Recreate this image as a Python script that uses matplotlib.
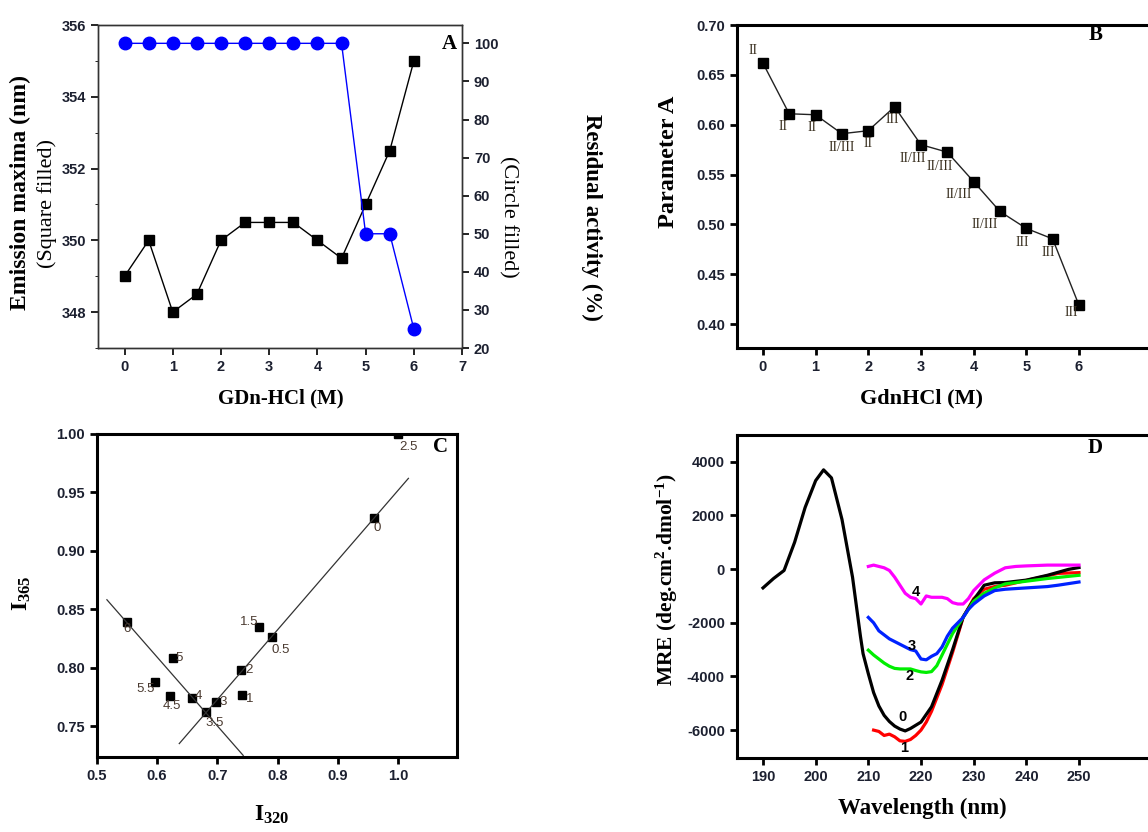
import numpy as np
import matplotlib
matplotlib.use("Agg")
import matplotlib.pyplot as plt
from matplotlib.ticker import FormatStrFormatter

plt.rcParams['font.family'] = ['Liberation Sans', 'DejaVu Sans']
plt.rcParams['font.weight'] = 'bold'
plt.rcParams['xtick.labelsize'] = 10.5
plt.rcParams['ytick.labelsize'] = 10.5
plt.rcParams['xtick.direction'] = 'out'
plt.rcParams['ytick.direction'] = 'out'
plt.rcParams['xtick.labelcolor'] = '#1c2030'
plt.rcParams['ytick.labelcolor'] = '#1c2030'
plt.rcParams['axes.unicode_minus'] = False
plt.rcParams['mathtext.fontset'] = 'custom'
plt.rcParams['mathtext.rm'] = 'Liberation Serif:bold'
plt.rcParams['mathtext.bf'] = 'Liberation Serif:bold'
plt.rcParams['mathtext.default'] = 'bf'

SERIF = ['Liberation Serif', 'DejaVu Serif']

# --- A: emission maxima and residual activity vs GdnHCl
gdn = [0, 0.5, 1, 1.5, 2, 2.5, 3, 3.5, 4, 4.5, 5, 5.5, 6]
emission_max = [349, 350, 348, 348.5, 350, 350.5, 350.5, 350.5, 350, 349.5, 351, 352.5, 355]
residual_act = [100, 100, 100, 100, 100, 100, 100, 100, 100, 100, 50, 50, 25]

# --- B: parameter A with state labels
param_a = [0.662, 0.611, 0.610, 0.591, 0.594, 0.618, 0.580, 0.5725, 0.543, 0.513, 0.496, 0.4855, 0.419]
states = ['II', 'II', 'II', 'II/III', 'II', 'III', 'II/III', 'II/III', 'II/III', 'II/III', 'III', 'III', 'III']

# --- C: phase diagram I320 vs I365
phase_lbl = ['0', '0.5', '1', '1.5', '2', '2.5', '3', '3.5', '4', '4.5', '5', '5.5', '6']
i320 = [0.960, 0.790, 0.741, 0.770, 0.740, 1.000, 0.698, 0.682, 0.658, 0.622, 0.627, 0.596, 0.550]
i365 = [0.928, 0.826, 0.777, 0.835, 0.798, 1.000, 0.771, 0.762, 0.774, 0.776, 0.808, 0.788, 0.839]
fit1_pts = ['0', '0.5', '2', '3', '3.5']
fit1_range = [0.637, 1.017]
fit2_pts = ['3.5', '4', '6']
fit2_range = [0.517, 0.743]

# --- D: far-UV CD spectra
wl0 = [190, 192, 194, 196, 198, 199, 200, 201.5, 203, 205, 207, 208.5, 209, 210, 211, 212, 213, 214,
       215, 216, 217, 218, 220, 222, 224, 226, 228, 230, 232, 234, 236, 240, 244, 248, 250]
mre0 = [-700, -350, -50, 1000, 2300, 2800, 3300, 3700, 3400, 1850, -300, -2500, -3150, -3900,
        -4600, -5100, -5450, -5680, -5850, -5960, -6030, -5940, -5700, -5130, -4140, -3000, -1780,
        -1150, -600, -510, -500, -410, -230, -10, 60]
wl1 = [211, 212, 213, 214, 215, 216, 217, 218, 219, 220, 221, 222, 224, 226, 228, 230, 232, 234,
       236, 240, 244, 246, 250]
mre1 = [-6000, -6050, -6200, -6150, -6250, -6400, -6420, -6350, -6200, -6000, -5700, -5300, -4300,
        -3100, -1800, -1100, -750, -650, -600, -420, -250, -160, -130]
wl2 = [210, 211, 212, 213, 214, 215, 216, 218, 219, 220, 221, 222, 223, 224, 225, 226, 227, 228,
       229, 230, 232, 234, 236, 240, 244, 250]
mre2 = [-3020, -3200, -3350, -3500, -3620, -3700, -3720, -3720, -3780, -3830, -3850, -3820, -3600,
        -3200, -2800, -2400, -2100, -1800, -1500, -1200, -900, -700, -550, -450, -350, -230]
wl3 = [210, 211, 212, 214, 216, 218, 219, 220, 221, 222, 223, 224, 225, 226, 228, 229, 230, 232,
       234, 236, 240, 244, 246, 250]
mre3 = [-1800, -2000, -2300, -2600, -2800, -3000, -3050, -3350, -3380, -3250, -3150, -2900, -2500,
        -2200, -1800, -1500, -1300, -1000, -800, -750, -700, -650, -600, -480]
wl4 = [210, 211, 212, 213, 214, 215, 216, 217, 218, 219, 220, 220.5, 221, 222, 224, 225, 226, 227,
       228, 229, 230, 232, 234, 236, 238, 240, 244, 250]
mre4 = [100, 150, 100, 50, -50, -300, -600, -900, -1050, -1100, -1300, -1150, -1000, -1050, -1050,
        -1100, -1250, -1300, -1300, -1100, -800, -400, -150, 50, 100, 120, 150, 150]

W, H = 1148, 832
fig = plt.figure(figsize=(W / 100, H / 100), dpi=100)


def ftext(px, py, s, **kw):
    # place text in pixel coordinates measured from the top-left corner
    kw.setdefault('ha', 'center')
    kw.setdefault('va', 'center')
    return fig.text(px / W, 1 - py / H, s, **kw)


# ---------------- panel A
axA = fig.add_axes([0.0854, 0.5817, 0.3171, 0.3882])
axA.plot(gdn, emission_max, color='black', lw=1, marker='s', ms=6.5, zorder=3)
axA.set_xlim(-0.55, 7)
axA.set_ylim(347, 356)
axA.set_xticks(range(0, 8))
axA.set_yticks([348, 350, 352, 354, 356])
axA.set_yticks(np.arange(347, 356, 1), minor=True)
axA.tick_params(width=1.2, length=5)
for s in axA.spines.values():
    s.set_linewidth(1.0)
    s.set_color('#333333')
axA.text(0.985, 0.94, 'A', transform=axA.transAxes, ha='right', va='center',
         fontsize=15, fontweight='bold', family=SERIF)

axA2 = axA.twinx()
axA2.plot(gdn, residual_act, color='#0000ff', lw=1, marker='o', ms=9, zorder=3)
axA2.set_ylim(20, 104.8)
axA2.set_yticks(range(20, 101, 10))
axA2.tick_params(width=1.2, length=5)
for s in axA2.spines.values():
    s.set_linewidth(1.0)
    s.set_color('#333333')

ftext(281, 398, 'GDn-HCl (M)', fontsize=15, fontweight='bold', family=SERIF)
ftext(20, 193, 'Emission maxima (nm)', rotation=90, fontsize=17, fontweight='bold', family=SERIF)
ftext(47, 203, '(Square filled)', rotation=90, fontsize=16, fontweight='normal', family=SERIF)
ftext(508, 217, '(Circle filled)', rotation=270, fontsize=16, fontweight='normal', family=SERIF)
ftext(592, 217, 'Residual activity (%)', rotation=270, fontsize=16.5, fontweight='bold', family=SERIF)

# ---------------- panel B
axB = fig.add_axes([0.642, 0.5817, 0.3667, 0.3882])
axB.plot(gdn, param_a, color='#222222', lw=1, marker='s', ms=7.5, mfc='black', mec='black')
axB.set_xlim(-0.49, 7.5)
axB.set_ylim(0.376, 0.70)
axB.set_xticks(range(0, 7))
axB.set_yticks(np.arange(0.40, 0.701, 0.05))
axB.yaxis.set_major_formatter(FormatStrFormatter('%.2f'))
axB.tick_params(width=2, length=5)
for s in axB.spines.values():
    s.set_linewidth(2.2)
offsets = [(-0.18, 0.012), (-0.12, -0.013), (-0.06, -0.013), (0.0, -0.014), (0.0, -0.013),
           (-0.05, -0.013), (-0.15, -0.014), (-0.15, -0.014), (-0.28, -0.013), (-0.28, -0.013),
           (-0.07, -0.014), (-0.08, -0.014), (-0.15, -0.007)]
for x, y, lab, (dx, dy) in zip(gdn, param_a, states, offsets):
    axB.text(x + dx, y + dy, lab, ha='center', va='center', fontsize=10, fontweight='normal',
             family=SERIF, color='#3a3020')
ftext(1096, 35, 'B', fontsize=15, fontweight='bold', family=SERIF)
ftext(669, 162, 'Parameter A', rotation=90, fontsize=17.5, fontweight='bold', family=SERIF)
ftext(922, 398, 'GdnHCl (M)', fontsize=16, fontweight='bold', family=SERIF)

# ---------------- panel C
axC = fig.add_axes([0.0842, 0.0905, 0.3141, 0.3879])
axC.plot(i320, i365, ls='none', marker='s', ms=6, color='black')
idx = {l: k for k, l in enumerate(phase_lbl)}
for pts, rng in [(fit1_pts, fit1_range), (fit2_pts, fit2_range)]:
    xs = [i320[idx[p]] for p in pts]
    ys = [i365[idx[p]] for p in pts]
    k, b = np.polyfit(xs, ys, 1)
    xr = np.array(rng)
    axC.plot(xr, k * xr + b, color='#333333', lw=0.9)
c_off = {'0': (0.005, -0.008), '0.5': (0.015, -0.011), '1': (0.012, -0.004), '1.5': (-0.017, 0.004),
         '2': (0.013, 0.0), '2.5': (0.017, -0.011), '3': (0.011, 0.0), '3.5': (0.013, -0.009),
         '4': (0.011, 0.002), '4.5': (0.002, -0.009), '5': (0.01, 0.0), '5.5': (-0.015, -0.006),
         '6': (0.001, -0.006)}
for x, y, lab in zip(i320, i365, phase_lbl):
    dx, dy = c_off[lab]
    axC.text(x + dx, y + dy, lab, ha='center', va='center', fontsize=9.5, fontweight='normal',
             color='#4a3a30')
axC.set_xlim(0.5, 1.098)
axC.set_ylim(0.724, 1.0)
axC.set_xticks([0.5, 0.6, 0.7, 0.8, 0.9, 1.0])
axC.set_yticks([0.75, 0.80, 0.85, 0.90, 0.95, 1.00])
axC.yaxis.set_major_formatter(FormatStrFormatter('%.2f'))
axC.tick_params(width=2, length=5)
for s in axC.spines.values():
    s.set_linewidth(2.2)
axC.text(0.975, 0.96, 'C', transform=axC.transAxes, ha='right', va='center',
         fontsize=15, fontweight='bold', family=SERIF)

ftext(22, 593, r'I$_{365}$', rotation=90, fontsize=17, fontweight='bold', family=SERIF)
ftext(272, 815, r'I$_{320}$', fontsize=17, fontweight='bold', family=SERIF)

# ---------------- panel D
axD = fig.add_axes([0.6417, 0.0886, 0.367, 0.3886])
axD.plot(wl1, mre1, color='#ff0000', lw=2.3)
axD.plot(wl0, mre0, color='black', lw=2.3)
axD.plot(wl2, mre2, color='#00ee00', lw=2.3)
axD.plot(wl3, mre3, color='#0022ff', lw=2.3)
axD.plot(wl4, mre4, color='#ff00ff', lw=2.3)
axD.set_xlim(185, 265)
axD.set_ylim(-7050, 5000)
axD.set_xticks(range(190, 251, 10))
axD.set_yticks(range(-6000, 4001, 2000))
axD.tick_params(width=2, length=5)
for s in axD.spines.values():
    s.set_linewidth(2.2)
for lab, x, y in [('0', 216.4, -5500), ('1', 216.8, -6650), ('2', 217.8, -4000),
                  ('3', 218.2, -2850), ('4', 219.0, -850)]:
    axD.text(x, y, lab, ha='center', va='center', fontsize=10.5, fontweight='bold')
ftext(1095, 448, 'D', fontsize=15, fontweight='bold', family=SERIF)

ftext(667, 580, r'MRE (deg.cm$^{2}$.dmol$^{-1}$)', rotation=90,
      fontsize=15.5, fontweight='bold', family=SERIF)
ftext(922, 808, 'Wavelength (nm)', fontsize=16.5, fontweight='bold', family=SERIF)

fig.savefig('out.png', dpi=100)
